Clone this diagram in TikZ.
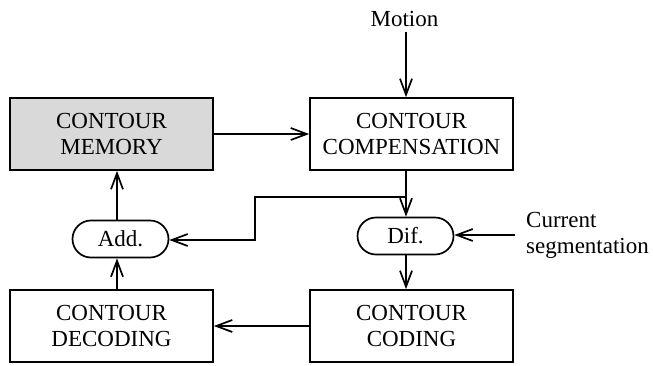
\documentclass[tikz,border=0pt]{standalone}
\usepackage{fontspec}
\setmainfont{Liberation Serif}
\usetikzlibrary{arrows.meta,shapes.misc}
\definecolor{memfill}{RGB}{217,217,217}
\tikzset{
  blk/.style={draw, line width=1.7pt, minimum width=203pt, minimum height=72pt, align=center, inner sep=0pt},
  op/.style={draw, line width=1.7pt, rounded rectangle, minimum width=96pt, minimum height=37pt, inner sep=0pt},
  arr/.style={line width=1.7pt, -{Straight Barb[length=16pt,width=12pt,line width=1.7pt]}},
}
\begin{document}
\begin{tikzpicture}[x=1pt,y=-1pt, font=\fontsize{23}{26}\selectfont]
\useasboundingbox (0,0) rectangle (653,365);
\node[blk, fill=memfill] (mem) at (111.5,134) {CONTOUR\\MEMORY};
\node[blk] (comp) at (411.5,134) {CONTOUR\\COMPENSATION};
\node[blk] (dec) at (111.5,326) {CONTOUR\\DECODING};
\node[blk] (cod) at (411.5,326) {CONTOUR\\CODING};
\node[op] (add) at (120.5,239) {Add.};
\node[op] (dif) at (405.5,236) {Dif.};
\node[anchor=base, inner sep=0pt] (mot) at (404.5,26) {Motion};
\node[anchor=west, align=left, inner sep=0pt] (cur) at (526,235) {Current\\segmentation};
\coordinate (ax) at (117,0);
\coordinate (cx) at (406,0);
\coordinate (br) at (406,197);
\coordinate (k1) at (255,197);
\coordinate (k2) at (255,240);
\coordinate (cs) at (515,235);
% connectors
\draw[arr] (mot.south -| cx) ++(0,6) -- (comp.north -| cx);
\draw[arr] (mem.east) -- (comp.west);
\draw[arr] (comp.south -| cx) -- (dif.north -| cx);
\draw[arr] (br) -- (k1) -- (k2) -- (add.east |- k2);
\draw[arr] (cs) -- (dif.east |- cs);
\draw[arr] (dif.south -| cx) -- (cod.north -| cx);
\draw[arr] (cod.west) -- (dec.east);
\draw[arr] (dec.north -| ax) -- (add.south -| ax);
\draw[arr] (add.north -| ax) -- (mem.south -| ax);
\end{tikzpicture}
\end{document}
